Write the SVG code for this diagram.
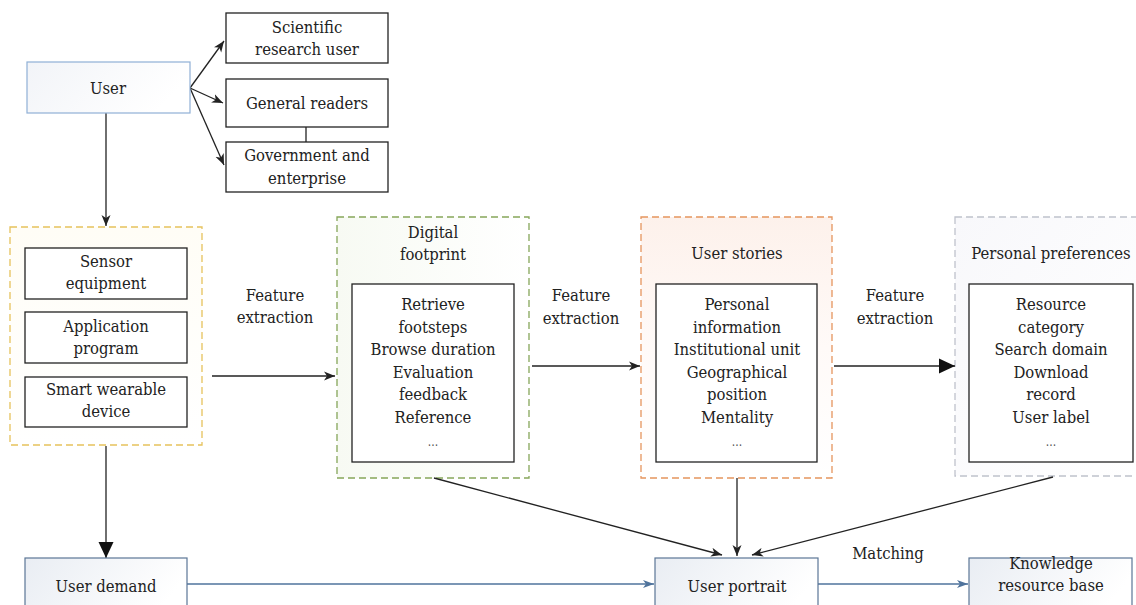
<svg xmlns="http://www.w3.org/2000/svg" width="1136" height="605" viewBox="0 0 1136 605">
<style>
text{font-family:'DejaVu Serif Condensed','DejaVu Serif',serif;font-stretch:condensed;font-size:16.5px;fill:#222;text-anchor:middle}
.box{fill:#fff;stroke:#222;stroke-width:1.3}
.bbox{fill:url(#gb);stroke:#5b7696;stroke-width:1.2}
.ubox{fill:url(#gb2);stroke:#8fb0d6;stroke-width:1.2}
.dash{stroke-width:1.3;stroke-dasharray:7,4}
.ln{stroke:#222;stroke-width:1.3;fill:none}
.bl{stroke:#4f739c;stroke-width:1.3;fill:none}
.dots{font-size:12px;fill:#555}
</style>
<defs>
<linearGradient id="gb" x1="0" y1="0" x2="1" y2="0.3"><stop offset="0" stop-color="#e9edf3"/><stop offset="1" stop-color="#ffffff"/></linearGradient>
<linearGradient id="gb2" x1="0" y1="0" x2="1" y2="0.3"><stop offset="0" stop-color="#f2f4f8"/><stop offset="1" stop-color="#ffffff"/></linearGradient>
<linearGradient id="gy" x1="0" y1="0" x2="0" y2="1"><stop offset="0" stop-color="#fffdf6"/><stop offset="1" stop-color="#ffffff"/></linearGradient>
<linearGradient id="gg" x1="0" y1="0" x2="1" y2="0"><stop offset="0" stop-color="#f7faf3"/><stop offset="1" stop-color="#ffffff"/></linearGradient>
<linearGradient id="go" x1="0" y1="0" x2="0" y2="1"><stop offset="0" stop-color="#fdf1eb"/><stop offset="0.5" stop-color="#fffaf8"/><stop offset="1" stop-color="#ffffff"/></linearGradient>
<linearGradient id="gp" x1="0" y1="0" x2="1" y2="1"><stop offset="0" stop-color="#f8f8fb"/><stop offset="1" stop-color="#ffffff"/></linearGradient>
<marker id="a" markerUnits="userSpaceOnUse" markerWidth="12" markerHeight="10" refX="11" refY="5" orient="auto"><path d="M0,0.5 L11,5 L0,9.5 L3,5 z" fill="#222"/></marker>
<marker id="big" markerUnits="userSpaceOnUse" markerWidth="17" markerHeight="16" refX="16" refY="8" orient="auto"><path d="M0,0.5 L16,8 L0,15.5 z" fill="#111"/></marker>
<marker id="ab" markerUnits="userSpaceOnUse" markerWidth="12" markerHeight="10" refX="11" refY="5" orient="auto"><path d="M0,1 L11,5 L0,9 L3,5 z" fill="#4f739c"/></marker>
</defs>
<rect width="1136" height="605" fill="#fff"/>

<g id="containers">
<rect x="10" y="227" width="192" height="218" fill="url(#gy)" stroke="#e6c25c" class="dash"/>
<rect x="337" y="217" width="192" height="261" fill="url(#gg)" stroke="#86a65a" class="dash"/>
<rect x="641" y="217" width="191" height="261" fill="url(#go)" stroke="#e5955e" class="dash"/>
<rect x="955" y="217" width="190" height="259" fill="url(#gp)" stroke="#bfc2cc" class="dash"/>
</g>

<g id="connectors">
<line class="ln" x1="190" y1="88" x2="224" y2="41" marker-end="url(#a)"/>
<line class="ln" x1="190" y1="88" x2="223" y2="103" marker-end="url(#a)"/>
<line class="ln" x1="190" y1="88" x2="224" y2="165" marker-end="url(#a)"/>
<line class="ln" x1="306" y1="127" x2="306" y2="142"/>
<line class="ln" x1="106" y1="113" x2="106" y2="226" marker-end="url(#a)"/>
<line class="ln" x1="212" y1="376" x2="335" y2="376" marker-end="url(#a)"/>
<line class="ln" x1="532" y1="366" x2="640" y2="366" marker-end="url(#a)"/>
<line class="ln" x1="834" y1="366" x2="955" y2="366" marker-end="url(#big)"/>
<line class="ln" x1="106" y1="446" x2="106" y2="558" marker-end="url(#big)"/>
<line class="ln" x1="434" y1="478" x2="722" y2="555" marker-end="url(#a)"/>
<line class="ln" x1="737" y1="478" x2="737" y2="556" marker-end="url(#a)"/>
<line class="ln" x1="1053" y1="477" x2="752" y2="555" marker-end="url(#a)"/>
<line class="bl" x1="187" y1="584" x2="654" y2="584" marker-end="url(#ab)"/>
<line class="bl" x1="818" y1="584" x2="968" y2="584" marker-end="url(#ab)"/>
</g>

<g id="labels">
<text x="275" y="301">Feature</text><text x="275" y="323">extraction</text>
<text x="581" y="301">Feature</text><text x="581" y="324">extraction</text>
<text x="895" y="301">Feature</text><text x="895" y="324">extraction</text>
<text x="888" y="559">Matching</text>
</g>

<g id="user"><rect class="ubox" x="27" y="62" width="163" height="51"/><text x="108" y="94">User</text></g>
<g id="scientific"><rect class="box" x="226" y="13" width="162" height="50"/><text x="307" y="33">Scientific</text><text x="307" y="55">research user</text></g>
<g id="general"><rect class="box" x="226" y="79" width="162" height="48"/><text x="307" y="109">General readers</text></g>
<g id="government"><rect class="box" x="226" y="142" width="162" height="50"/><text x="307" y="161">Government and</text><text x="307" y="184">enterprise</text></g>

<g id="sensor"><rect class="box" x="25" y="248" width="162" height="51"/><text x="106" y="267">Sensor</text><text x="106" y="289">equipment</text></g>
<g id="application"><rect class="box" x="25" y="312" width="162" height="51"/><text x="106" y="332">Application</text><text x="106" y="354">program</text></g>
<g id="smart"><rect class="box" x="25" y="377" width="162" height="50"/><text x="106" y="395">Smart wearable</text><text x="106" y="417">device</text></g>

<g id="digital">
<text x="433" y="238">Digital</text><text x="433" y="260">footprint</text>
<rect class="box" x="352" y="284" width="162" height="178"/>
<text x="433" y="310">Retrieve</text><text x="433" y="333">footsteps</text><text x="433" y="355">Browse duration</text><text x="433" y="378">Evaluation</text><text x="433" y="400">feedback</text><text x="433" y="423">Reference</text><text x="433" y="446" class="dots">...</text>
</g>

<g id="stories">
<text x="737" y="259">User stories</text>
<rect class="box" x="656" y="284" width="161" height="178"/>
<text x="737" y="310">Personal</text><text x="737" y="333">information</text><text x="737" y="355">Institutional unit</text><text x="737" y="378">Geographical</text><text x="737" y="400">position</text><text x="737" y="423">Mentality</text><text x="737" y="446" class="dots">...</text>
</g>

<g id="preferences">
<text x="1051" y="259">Personal preferences</text>
<rect class="box" x="969" y="284" width="164" height="178"/>
<text x="1051" y="310">Resource</text><text x="1051" y="333">category</text><text x="1051" y="355">Search domain</text><text x="1051" y="378">Download</text><text x="1051" y="400">record</text><text x="1051" y="423">User label</text><text x="1051" y="446" class="dots">...</text>
</g>

<g id="demand"><rect class="bbox" x="25" y="558" width="162" height="60"/><text x="106" y="592">User demand</text></g>
<g id="portrait"><rect class="bbox" x="655" y="558" width="163" height="60"/><text x="737" y="592">User portrait</text></g>
<g id="knowledge"><rect class="bbox" x="969" y="558" width="163" height="60"/><text x="1051" y="569">Knowledge</text><text x="1051" y="591">resource base</text></g>
</svg>
